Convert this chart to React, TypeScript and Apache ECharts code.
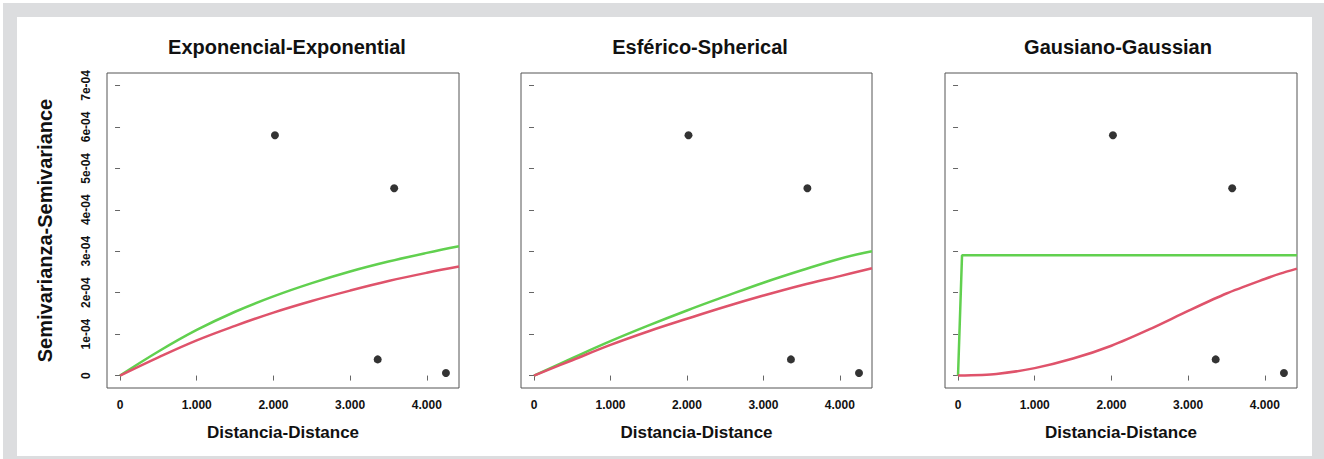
import React, { useEffect, useRef } from "react";
import * as echarts from "echarts";

// Semivariance values are in units of 1e-04
const titles = ["Exponencial-Exponential", "Esférico-Spherical", "Gausiano-Gaussian"];
const xTicks = [0, 1000, 2000, 3000, 4000];
const yTicks = [0, 1, 2, 3, 4, 5, 6, 7];

const obsDistance = [2020, 3575, 3360, 4250];
const obsSemivariance = [5.8, 4.52, 0.39, 0.06];

const curveDistance = [0, 500, 1000, 1500, 2000, 2500, 3000, 3500, 4000, 4420];
const expGreen = [0, 0.58, 1.1, 1.54, 1.91, 2.23, 2.51, 2.75, 2.96, 3.12];
const expRed = [0, 0.44, 0.85, 1.2, 1.52, 1.8, 2.05, 2.28, 2.48, 2.63];
const sphGreen = [0, 0.42, 0.83, 1.21, 1.57, 1.91, 2.24, 2.54, 2.82, 3.0];
const sphRed = [0, 0.37, 0.74, 1.07, 1.37, 1.66, 1.93, 2.18, 2.4, 2.59];
const gauGreenDistance = [0, 52, 4420];
const gauGreen = [0, 2.9, 2.9];
const gauRedDistance = [0, 500, 1000, 1500, 2000, 2500, 3000, 3500, 4000, 4200, 4420];
const gauRed = [0, 0.04, 0.18, 0.41, 0.72, 1.12, 1.56, 1.98, 2.33, 2.46, 2.58];

const GREEN = "#61D04F";
const RED = "#DF536B";
const FONT = "'Liberation Sans', Arial, Helvetica, sans-serif";

export default function App() {
  const ref = useRef<HTMLDivElement>(null);
  useEffect(() => {
    if (!ref.current) return;
    const chart = echarts.init(ref.current, null, { renderer: "svg" });
    const lefts = [107, 521, 945];
    const widths = [352, 351, 352];
    const greens = [
      { x: curveDistance, y: expGreen, smooth: 0.4 },
      { x: curveDistance, y: sphGreen, smooth: 0.4 },
      { x: gauGreenDistance, y: gauGreen, smooth: false },
    ];
    const reds = [
      { x: curveDistance, y: expRed, smooth: 0.4 },
      { x: curveDistance, y: sphRed, smooth: 0.4 },
      { x: gauRedDistance, y: gauRed, smooth: 0.25 },
    ];
    const grids = lefts.map((l, i) => ({
      left: l,
      top: 73,
      width: widths[i],
      height: 315,
      show: true,
      borderColor: "#555",
      borderWidth: 1,
      backgroundColor: "transparent",
    }));
    const xAxes = lefts.map((_, i) => ({
      type: "value",
      gridIndex: i,
      min: -170,
      max: 4420,
      splitLine: { show: false },
      axisLine: { show: false },
      axisTick: { show: true, length: 5, customValues: xTicks, lineStyle: { color: "#666" } },
      axisLabel: {
        customValues: xTicks,
        margin: 11,
        fontFamily: FONT,
        fontWeight: "bold",
        fontSize: 12,
        color: "#111",
        formatter: (v: number) => (v === 0 ? "0" : `${Math.round(v / 1000)}.000`),
      },
      name: "Distancia-Distance",
      nameLocation: "middle",
      nameGap: 36,
      nameTextStyle: { fontFamily: FONT, fontWeight: "bold", fontSize: 17, color: "#111" },
    }));
    const yAxes = lefts.map((_, i) => ({
      type: "value",
      gridIndex: i,
      min: -0.3,
      max: 7.3,
      splitLine: { show: false },
      axisLine: { show: false },
      axisTick: { show: true, length: 5, customValues: yTicks, lineStyle: { color: "#666" } },
      axisLabel: {
        show: i === 0,
        customValues: yTicks,
        rotate: 90,
        margin: 15,
        fontFamily: FONT,
        fontWeight: "bold",
        fontSize: 12,
        color: "#111",
        formatter: (v: number) => (v === 0 ? "0" : `${Math.round(v)}e-04`),
      },
      name: i === 0 ? "Semivarianza-Semivariance" : "",
      nameLocation: "middle",
      nameRotate: 90,
      nameGap: 52,
      nameTextStyle: { fontFamily: FONT, fontWeight: "bold", fontSize: 20, color: "#111" },
    }));
    const series: any[] = [];
    lefts.forEach((_, i) => {
      series.push({
        type: "line",
        xAxisIndex: i,
        yAxisIndex: i,
        data: greens[i].x.map((d, k) => [d, greens[i].y[k]]),
        smooth: greens[i].smooth,
        showSymbol: false,
        lineStyle: { color: GREEN, width: 2.5 },
        z: 3,
      });
      series.push({
        type: "line",
        xAxisIndex: i,
        yAxisIndex: i,
        data: reds[i].x.map((d, k) => [d, reds[i].y[k]]),
        smooth: reds[i].smooth,
        showSymbol: false,
        lineStyle: { color: RED, width: 2.5 },
        z: 3,
      });
      series.push({
        type: "scatter",
        xAxisIndex: i,
        yAxisIndex: i,
        data: obsDistance.map((d, k) => [d, obsSemivariance[k]]),
        symbolSize: 8,
        itemStyle: { color: "#000" },
        z: 4,
      });
    });
    const titleCenters = [287, 700, 1118];
    const graphic: any[] = [
      { type: "rect", z: -100, shape: { x: 3, y: 3, width: 1321, height: 456 }, style: { fill: "#dcdddf" } },
      { type: "rect", z: -99, shape: { x: 17, y: 17, width: 1295, height: 439 }, style: { fill: "#ffffff" } },
      ...titles.map((t, i) => ({
        type: "text",
        x: titleCenters[i],
        y: 47,
        style: {
          text: t,
          fontFamily: FONT,
          fontWeight: "bold",
          fontSize: 20,
          fill: "#111",
          textAlign: "center",
          textVerticalAlign: "middle",
        },
      })),
    ];
    chart.setOption({
      animation: false,
      backgroundColor: "#fff",
      grid: grids,
      xAxis: xAxes,
      yAxis: yAxes,
      series,
      graphic,
    });
    return () => chart.dispose();
  }, []);
  return (
    <div
      ref={ref}
      style={{ position: "absolute", left: 0, top: 0, width: 1324, height: 459 }}
    />
  );
}
